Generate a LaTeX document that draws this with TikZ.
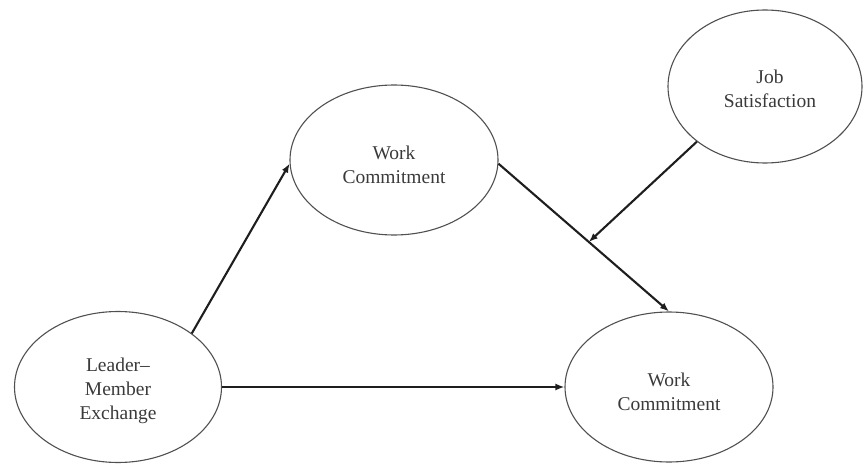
\documentclass[tikz,border=0pt]{standalone}
\usepackage{fontspec}
\setmainfont{Liberation Serif}
\usetikzlibrary{shapes.geometric,arrows.meta}
\definecolor{txt}{HTML}{3A3A3A}
\definecolor{edge}{HTML}{505050}
\definecolor{arr}{HTML}{1E1E1E}
\begin{document}
\begin{tikzpicture}[x=1pt,y=-1pt,
  oval/.style={ellipse,draw=edge,line width=1.1pt,inner sep=0pt},
  lbl/.style={align=center,text=txt,inner sep=0pt,font=\fontsize{19.5}{24}\selectfont},
  link/.style={draw=arr,line width=2.1pt,-{Latex[length=9pt,width=7pt]}}]
\useasboundingbox (0,0) rectangle (864,465);
\node[oval,minimum width=207pt,minimum height=151pt] (lmx) at (118,387) {};
\node[lbl] (lmxt) at (118,391) {Leader--\\Member\\Exchange};
\node[oval,minimum width=208pt,minimum height=150pt] (wc1) at (394,160) {};
\node[lbl] (wc1t) at (394,164.5) {Work\\Commitment};
\node[oval,minimum width=194pt,minimum height=153pt] (js) at (765,86.5) {};
\node[lbl] (jst) at (770,89) {Job\\Satisfaction};
\node[oval,minimum width=208pt,minimum height=150pt] (wc2) at (669,387) {};
\node[lbl] (wc2t) at (669,391.5) {Work\\Commitment};
\draw[link] (lmx.36) -- (wc1.182.5);
\draw[link] (lmx.east) -- (wc2.west);
\draw[link] (wc1.-2.5) -- coordinate[pos=0.53] (mid) (wc2.north);
\draw[link] (js.219.6) -- (mid);
\end{tikzpicture}
\end{document}
